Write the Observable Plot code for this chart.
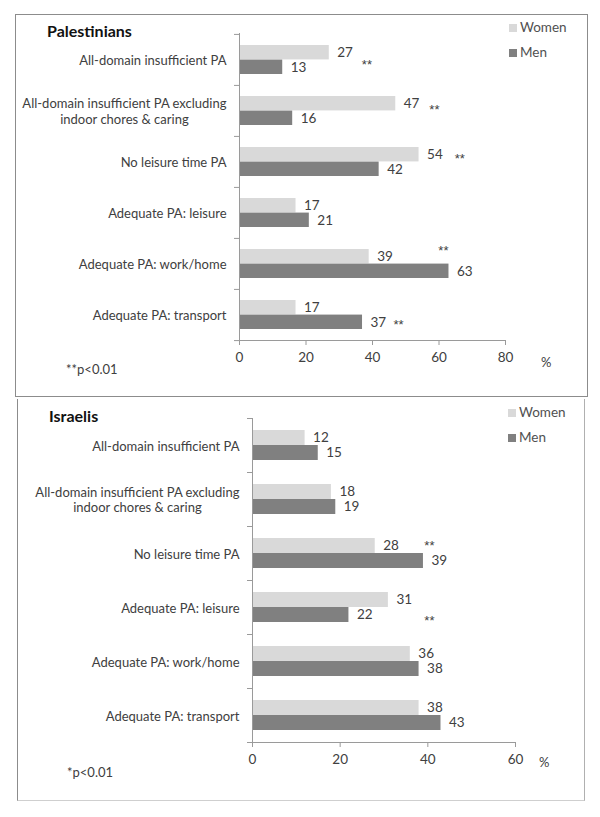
<!DOCTYPE html>
<html><head><meta charset="utf-8">
<script src="https://cdn.jsdelivr.net/npm/d3@7"></script>
<script src="https://cdn.jsdelivr.net/npm/@observablehq/plot@0.6"></script>
<style>
body{margin:0;background:#fff;font-family:Lato,"Open Sans",sans-serif;color:#404040;}
#page{position:relative;width:600px;height:817px;overflow:hidden;}
.box{position:absolute;box-sizing:border-box;}
.abs{position:absolute;white-space:nowrap;line-height:1;}
.title{font-weight:bold;font-size:16px;color:#111;}
.note{font-size:13px;color:#404040;}
.leg{font-size:13.5px;color:#505050;}
.sw{position:absolute;width:8px;height:8px;}
.chart{position:absolute;}
</style></head><body><div id="page"></div>
<script>
// ---- data ----
const categories = [
  "All-domain insufficient PA",
  "All-domain insufficient PA excluding indoor chores & caring",
  "No leisure time PA",
  "Adequate PA: leisure",
  "Adequate PA: work/home",
  "Adequate PA: transport"
];
const tickLabels = [
  "All-domain insufficient PA",
  "All-domain insufficient PA excluding\nindoor chores & caring",
  "No leisure time PA",
  "Adequate PA: leisure",
  "Adequate PA: work/home",
  "Adequate PA: transport"
];
const series = ["Women", "Men"];
const seriesColors = ["#d9d9d9", "#808080"];
const palestiniansWomen = [27, 47, 54, 17, 39, 17];
const palestiniansMen   = [13, 16, 42, 21, 63, 37];
const israelisWomen = [12, 18, 28, 31, 36, 38];
const israelisMen   = [15, 19, 39, 22, 38, 43];
const palestiniansTicks = [0, 20, 40, 60, 80];
const israelisTicks = [0, 20, 40, 60];
// significance marks: category index and value-axis location of the "**"
const palestiniansStars = [
  {cat: 0, x: 36.8, dy: 5},
  {cat: 1, x: 57.1, dy: -1},
  {cat: 2, x: 64.7, dy: -3},
  {cat: 4, x: 59.8, dy: -13},
  {cat: 5, x: 46.3, dy: 10}
];
const israelisStars = [
  {cat: 2, x: 39.2, dy: -8},
  {cat: 3, x: 39.2, dy: 13}
];

const page = document.getElementById("page");
function el(cls, css, txt) {
  const d = document.createElement("div");
  d.className = cls;
  Object.assign(d.style, css);
  if (txt != null) d.textContent = txt;
  page.appendChild(d);
  return d;
}

const axisColor = "#9a9a9a";
const textColor = "#404040";

function makeChart(cfg) {
  const {women, men, stars, xMax, ticks, left, top, width, height, ml, mr, mt, mb, inset} = cfg;
  const rows = categories.flatMap((c, i) => [
    {cat: c, g: "Women", v: women[i]},
    {cat: c, g: "Men", v: men[i]}
  ]);
  const W = rows.filter(d => d.g === "Women");
  const M = rows.filter(d => d.g === "Men");
  const bw = (height - mt - mb) / categories.length;
  const half = bw / 2;
  const off = (half - inset) / 2;
  const starRows = stars.map(s => ({cat: categories[s.cat], x: s.x, dy: s.dy}));
  const svg = Plot.plot({
    width, height,
    marginLeft: ml, marginRight: mr, marginTop: mt, marginBottom: mb,
    style: {fontFamily: "Lato, 'Open Sans', sans-serif", fontSize: "13px", color: textColor, background: "transparent", overflow: "visible"},
    x: {domain: [0, xMax], axis: null},
    y: {domain: categories, padding: 0, axis: null},
    color: {domain: series, range: seriesColors},
    marks: [
      Plot.barX(W, {x: "v", y: "cat", fill: "g", insetTop: inset, insetBottom: half}),
      Plot.barX(M, {x: "v", y: "cat", fill: "g", insetTop: half, insetBottom: inset}),
      Plot.text(W, {x: "v", y: "cat", text: d => String(d.v), dx: 8, dy: -off, textAnchor: "start", fill: textColor, fontSize: 13.5}),
      Plot.text(M, {x: "v", y: "cat", text: d => String(d.v), dx: 8, dy: off, textAnchor: "start", fill: textColor, fontSize: 13.5}),
      ...starRows.map(s => Plot.text([s], {x: "x", y: "cat", text: () => "**", dy: s.dy, textAnchor: "start", fill: "#404040", fontSize: 13, fontFamily: "Liberation Sans"})),
      Plot.ruleX([0], {stroke: axisColor}),
      Plot.ruleY(categories, {y: d => d, x1: 0, x2: 0, insetLeft: -5, dy: -half, stroke: axisColor}),
      Plot.ruleY([categories[categories.length - 1]], {y: d => d, x1: 0, x2: 0, insetLeft: -5, dy: half, stroke: axisColor}),
      Plot.frame({anchor: "bottom", stroke: axisColor}),
      Plot.axisX({ticks, tickSize: 5, tickPadding: 7, stroke: axisColor, fill: textColor, fontSize: 13.5, label: null, tickFormat: d => String(d)}),
      Plot.axisY({tickSize: 0, tickPadding: 13, fill: textColor, fontSize: 13, lineHeight: 1.2, label: null,
        tickFormat: d => tickLabels[categories.indexOf(d)]})
    ]
  });
  const wrap = el("chart", {left: left + "px", top: top + "px", width: width + "px", height: height + "px"});
  wrap.appendChild(svg);
  // center the wrapped second line under the first (as in the original)
  svg.querySelectorAll("text").forEach(t => {
    const ts = t.querySelectorAll("tspan");
    if (ts.length === 2) {
      const w1 = ts[0].getComputedTextLength();
      const w2 = ts[1].getComputedTextLength();
      ts[1].setAttribute("x", String(-(w1 - w2) / 2));
    }
  });
  return svg;
}

// ---- top panel ----
el("box", {left: "15px", top: "14px", width: "573px", height: "383px", border: "1px solid #8c8c8c"});
makeChart({women: palestiniansWomen, men: palestiniansMen, stars: palestiniansStars, xMax: 80, ticks: palestiniansTicks,
  left: 15, top: 14, width: 572, height: 383, ml: 224, mr: 82, mt: 19, mb: 57, inset: 11});
el("abs title", {left: "47px", top: "23px"}, "Palestinians");
el("sw", {left: "509px", top: "24px", background: seriesColors[0]});
el("abs leg", {left: "520px", top: "21px"}, series[0]);
el("sw", {left: "509px", top: "49px", background: seriesColors[1]});
el("abs leg", {left: "520px", top: "46px"}, series[1]);
el("abs note", {left: "541px", top: "356px"}, "%");
el("abs note", {left: "66px", top: "363px"}, "**p<0.01");

// ---- bottom panel ----
el("box", {left: "17px", top: "399px", width: "568px", height: "402px", borderLeft: "1px solid #8c8c8c", borderRight: "1px solid #b0b0b0", borderBottom: "1px solid #cfcfcf"});
makeChart({women: israelisWomen, men: israelisMen, stars: israelisStars, xMax: 60, ticks: israelisTicks,
  left: 17, top: 399, width: 567, height: 401, ml: 235, mr: 69, mt: 19, mb: 58, inset: 12});
el("abs title", {left: "49px", top: "408px"}, "Israelis");
el("sw", {left: "508px", top: "409px", background: seriesColors[0]});
el("abs leg", {left: "519px", top: "406px"}, series[0]);
el("sw", {left: "508px", top: "434px", background: seriesColors[1]});
el("abs leg", {left: "519px", top: "431px"}, series[1]);
el("abs note", {left: "539px", top: "756px"}, "%");
el("abs note", {left: "67px", top: "766px"}, "*p<0.01");
</script>
</body></html>
